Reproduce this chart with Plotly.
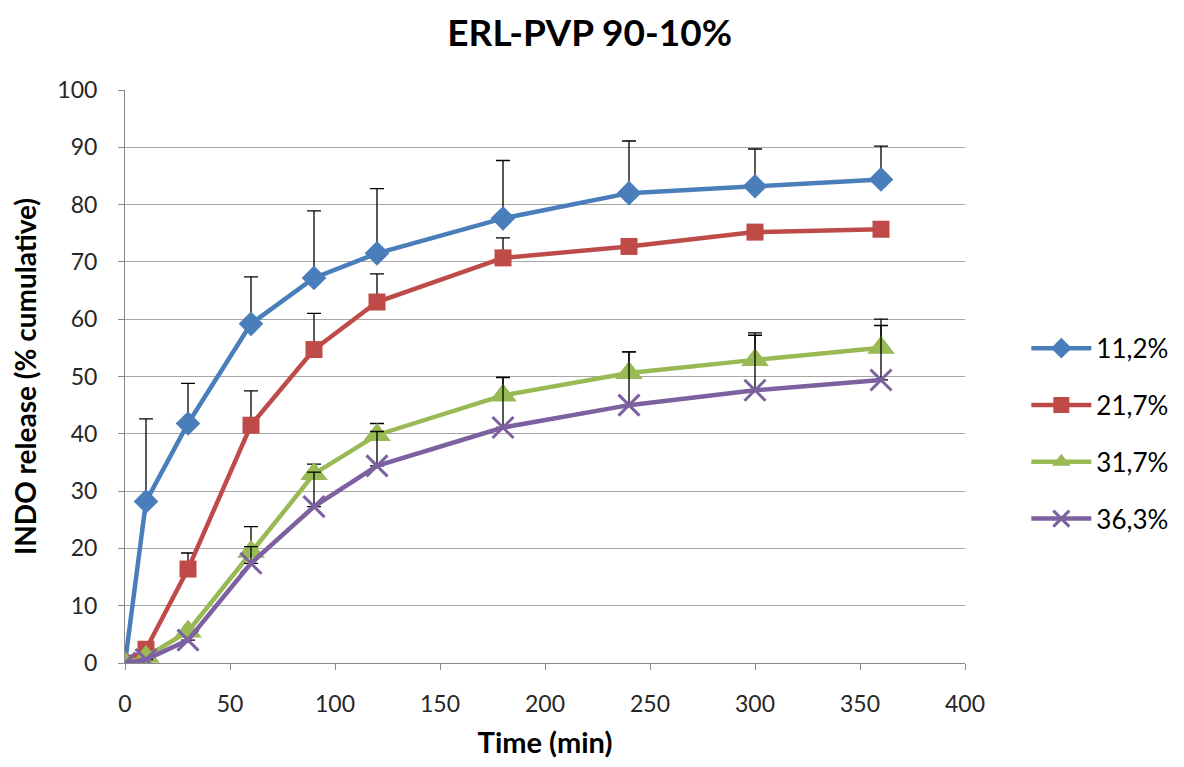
import plotly.graph_objects as go

time_min = [0, 10, 30, 60, 90, 120, 180, 240, 300, 360]

series_names = ["11,2%", "21,7%", "31,7%", "36,3%"]

rel_112 = [0, 28.2, 41.8, 59.2, 67.2, 71.5, 77.6, 82.0, 83.2, 84.4]
err_112 = [0, 14.4, 7.0, 8.2, 11.7, 11.3, 10.1, 9.1, 6.5, 5.8]

rel_217 = [0, 2.4, 16.4, 41.5, 54.7, 63.0, 70.7, 72.7, 75.2, 75.7]
err_217 = [0, 0, 2.8, 6.0, 6.3, 4.9, 3.5, 0, 0, 0]

rel_317 = [0, 1.1, 5.5, 19.4, 33.0, 39.8, 46.7, 50.6, 52.9, 55.0]
err_317 = [0, 0, 0, 4.4, 1.7, 2.0, 3.2, 3.7, 4.7, 5.0]

rel_363 = [0, 0.6, 4.0, 17.4, 27.3, 34.4, 41.1, 45.0, 47.6, 49.4]
err_363 = [0, 0, 0, 2.9, 6.0, 6.0, 8.7, 9.3, 9.6, 9.5]

colors = ["#4A7EBB", "#BE4B48", "#98B954", "#7D60A0"]
symbols = ["diamond", "square", "triangle-up", "x-thin"]
sizes = [19, 17, 24, 21]

values = [rel_112, rel_217, rel_317, rel_363]
errors = [err_112, err_217, err_317, err_363]

fig = go.Figure()
for i in range(4):
    marker = dict(color=colors[i], symbol=symbols[i], size=sizes[i])
    if symbols[i] == "x-thin":
        marker["line"] = dict(color=colors[i], width=3)
    fig.add_trace(go.Scatter(
        x=time_min, y=values[i], name=series_names[i],
        mode="lines+markers",
        line=dict(color=colors[i], width=4.5),
        marker=marker,
        legendgroup=series_names[i],
        error_y=dict(type="data", array=errors[i], arrayminus=[0] * len(errors[i]),
                     symmetric=False, color="#000000", thickness=1.3, width=7),
    ))

fig.update_layout(
    width=1168, height=751,
    paper_bgcolor="white", plot_bgcolor="white",
    margin=dict(l=117, r=211, t=82, b=96, autoexpand=False),
    font=dict(family="Lato, Carlito, sans-serif", color="#000000"),
    title=dict(text="<b>ERL-PVP 90-10%</b>", x=0.498, xref="container",
               y=0.966, yanchor="middle", font=dict(size=37, color="#000000")),
    legend=dict(x=1.073, xanchor="left", y=0.40, yanchor="middle",
                font=dict(size=26), tracegroupgap=20, traceorder="grouped",
                itemwidth=60),
    showlegend=True,
)

fig.update_xaxes(
    range=[0, 400], tickvals=[0, 50, 100, 150, 200, 250, 300, 350, 400],
    showgrid=False, showline=True, linecolor="#898989", linewidth=1,
    ticks="outside", ticklen=6, tickcolor="#898989", ticklabelstandoff=14,
    tickfont=dict(size=23, color="#262626"), zeroline=False, automargin=False,
    title=dict(text="<b>Time (min)</b>", font=dict(size=29), standoff=18),
)
fig.update_yaxes(
    range=[0, 100], tickvals=list(range(0, 101, 10)),
    showgrid=True, gridcolor="#A6A6A6", gridwidth=1,
    showline=True, linecolor="#898989", linewidth=1,
    ticks="outside", ticklen=6, tickcolor="#898989", ticklabelstandoff=16,
    tickfont=dict(size=23, color="#262626"), zeroline=False, automargin=False,
    title=dict(text="<b>INDO release (% cumulative)</b>", font=dict(size=28), standoff=14),
)

fig.write_html("out.html")
